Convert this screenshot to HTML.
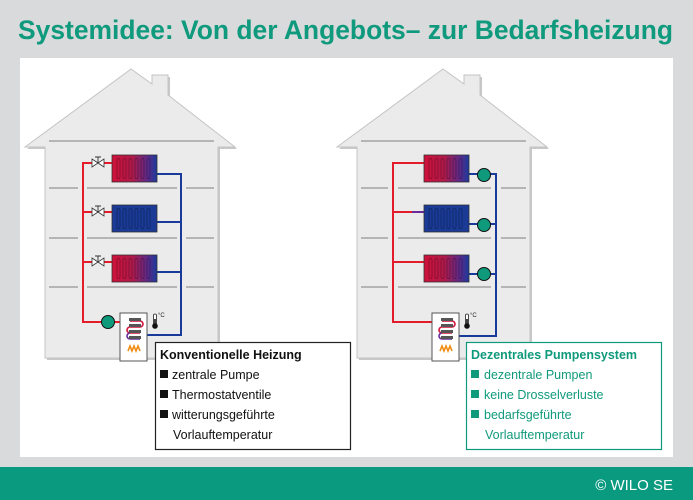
<!DOCTYPE html>
<html><head><meta charset="utf-8"><style>
html,body{margin:0;padding:0;background:#d9dadc;}
svg{display:block;}
text{font-family:"Liberation Sans","DejaVu Sans",sans-serif;}
</style></head><body>
<svg width="693" height="500" viewBox="0 0 693 500" xmlns="http://www.w3.org/2000/svg">
<defs>
<linearGradient id="rb" x1="0" x2="1" y1="0" y2="0">
<stop offset="0" stop-color="#d0103a"/><stop offset="0.45" stop-color="#b01a4a"/><stop offset="0.8" stop-color="#5a2a8a"/><stop offset="1" stop-color="#1a3a9a"/>
</linearGradient>
<g id="fins" stroke="#000" stroke-opacity="0.35" stroke-width="0.7" fill="none">
<rect x="5" y="3.5" width="3" height="20" rx="1.5"/><rect x="11" y="3.5" width="3" height="20" rx="1.5"/><rect x="17" y="3.5" width="3" height="20" rx="1.5"/><rect x="23" y="3.5" width="3" height="20" rx="1.5"/><rect x="29" y="3.5" width="3" height="20" rx="1.5"/><rect x="35" y="3.5" width="3" height="20" rx="1.5"/>
</g>
<g id="radR">
<rect x="0" y="0" width="45" height="27" fill="url(#rb)" stroke="#333" stroke-width="0.8"/>
<use href="#fins"/></g>
<g id="radB">
<rect x="0" y="0" width="45" height="27" fill="#1a3a95" stroke="#333" stroke-width="0.8"/>
<use href="#fins"/></g>
<g id="valve">
<path d="M-6,-4 L6,4 L6,-4 L-6,4 Z" fill="#fff" stroke="#333" stroke-width="0.8"/>
<path d="M0,0 V-6 M-3,-6 H3" stroke="#333" stroke-width="0.9"/>
</g>
<g id="pump"><circle r="6.5" fill="#109a7c" stroke="#111" stroke-width="1"/></g>
<g id="boiler">
<rect x="0" y="0" width="27" height="48" fill="#fff" stroke="#555" stroke-width="1"/>
<path d="M10,8 H20 a3,3 0 0 1 0,6 H10 a3,3 0 0 0 0,6 H20" fill="none" stroke="#d4143a" stroke-width="1.6"/>
<path d="M10,20 a3,3 0 0 0 0,6 H20" fill="none" stroke="#6a2a9a" stroke-width="1.6"/>
<g fill="#555"><rect x="9" y="5" width="12" height="3"/><rect x="9" y="11" width="12" height="3"/><rect x="9" y="17" width="12" height="3"/><rect x="9" y="23" width="12" height="3"/></g>
<path d="M8,38 l2,-5 l2,5 l2,-5 l2,5 l2,-5 l2,5" fill="none" stroke="#f08a10" stroke-width="1.6"/>
</g>
<g id="thermo">
<rect x="-1.5" y="0" width="3" height="11" rx="1.5" fill="#fff" stroke="#222" stroke-width="0.8"/>
<circle cx="0" cy="12" r="2.8" fill="#111"/><rect x="-0.8" y="5" width="1.6" height="7" fill="#111"/>
<text x="3" y="3" font-size="6" fill="#222">°C</text>
</g>
<g id="house">
<path d="M127,84 L127,75 L143,75 L143,95 L210,147 L193,147 L193,358 L20,358 L20,147 L0,147 L106,69 Z" fill="#c8c8c8" transform="translate(2,2)"/>
<path d="M0,147 L106,69 L127,84 L127,75 L143,75 L143,95 L210,147 L193,147 L193,358 L20,358 L20,147 Z" fill="#ebebeb" stroke="#c4c4c4" stroke-width="1"/>
</g>
</defs>

<rect x="0" y="0" width="693" height="500" fill="#d9dadc"/>
<text x="18" y="39" font-size="26.5" font-weight="bold" fill="#0f9a7d" textLength="655" lengthAdjust="spacingAndGlyphs">Systemidee: Von der Angebots– zur Bedarfsheizung</text>
<rect x="20" y="58" width="653" height="399" fill="#fff"/>
<rect x="0" y="467" width="693" height="33" fill="#0a9a80"/>
<text x="673" y="490" font-size="15" fill="#fff" text-anchor="end">© WILO SE</text>

<!-- HOUSE 1 -->
<use href="#house" x="25" y="0"/>
<g stroke="#b5b5b5" stroke-width="2">
<line x1="49" y1="141" x2="214" y2="141"/>
<line x1="49" y1="188" x2="78" y2="188"/><line x1="87" y1="188" x2="177" y2="188"/><line x1="186" y1="188" x2="214" y2="188"/>
<line x1="49" y1="238" x2="78" y2="238"/><line x1="87" y1="238" x2="177" y2="238"/><line x1="186" y1="238" x2="214" y2="238"/>
<line x1="49" y1="287" x2="78" y2="287"/><line x1="87" y1="287" x2="177" y2="287"/><line x1="186" y1="287" x2="214" y2="287"/>
</g>
<g fill="none" stroke-width="2">
<path d="M92,163 H83 V322 H101 M83,212 H92 M83,262 H92" stroke="#e31b2a"/>
<path d="M104,163 H112 M104,212 H112 M104,262 H112 M115,322 H130" stroke="#e31b2a"/>
<path d="M157,174 H181 V335 H137 M157,222 H181 M157,272 H181" stroke="#1a3a9a"/>
</g>
<use href="#valve" x="98" y="163"/><use href="#valve" x="98" y="212"/><use href="#valve" x="98" y="262"/>
<use href="#radR" x="112" y="155"/><use href="#radB" x="112" y="205"/><use href="#radR" x="112" y="255"/>
<use href="#pump" x="108" y="322"/>
<use href="#boiler" x="120" y="313"/>
<use href="#thermo" x="155" y="314"/>

<!-- HOUSE 2 -->
<use href="#house" x="337" y="0"/>
<g stroke="#b5b5b5" stroke-width="2">
<line x1="361" y1="141" x2="526" y2="141"/>
<line x1="361" y1="188" x2="388" y2="188"/><line x1="398" y1="188" x2="491" y2="188"/><line x1="501" y1="188" x2="526" y2="188"/>
<line x1="361" y1="238" x2="388" y2="238"/><line x1="398" y1="238" x2="491" y2="238"/><line x1="501" y1="238" x2="526" y2="238"/>
<line x1="361" y1="287" x2="388" y2="287"/><line x1="398" y1="287" x2="491" y2="287"/><line x1="501" y1="287" x2="526" y2="287"/>
</g>
<g fill="none" stroke-width="2">
<path d="M424,163 H393 V322 H442 M393,212 H412 M393,262 H424" stroke="#e31b2a"/>
<path d="M412,212 H424" stroke="#6a2a9a"/>
<path d="M469,174 H496 V336 H450 M469,224 H496 M469,274 H496" stroke="#1a3a9a"/>
</g>
<use href="#radR" x="424" y="155"/><use href="#radB" x="424" y="205"/><use href="#radR" x="424" y="255"/>
<use href="#pump" x="484" y="175"/><use href="#pump" x="484" y="225"/><use href="#pump" x="484" y="274"/>
<use href="#boiler" x="432" y="313"/>
<use href="#thermo" x="467" y="314"/>

<!-- Text boxes -->
<rect x="155.5" y="342.5" width="195" height="107" fill="#fff" stroke="#222" stroke-width="1.2"/>
<g font-size="12.5" fill="#111">
<text x="160" y="359" font-weight="bold">Konventionelle Heizung</text>
<rect x="160" y="370" width="8" height="8"/><text x="172" y="379">zentrale Pumpe</text>
<rect x="160" y="390" width="8" height="8"/><text x="172" y="399">Thermostatventile</text>
<rect x="160" y="410" width="8" height="8"/><text x="172" y="419">witterungsgeführte</text>
<text x="173" y="439">Vorlauftemperatur</text>
</g>
<rect x="466.5" y="342.5" width="195" height="107" fill="#fff" stroke="#109a7c" stroke-width="1.2"/>
<g font-size="12.5" fill="#109a7c">
<text x="471" y="359" font-weight="bold">Dezentrales Pumpensystem</text>
<rect x="471" y="370" width="8" height="8"/><text x="484" y="379">dezentrale Pumpen</text>
<rect x="471" y="390" width="8" height="8"/><text x="484" y="399">keine Drosselverluste</text>
<rect x="471" y="410" width="8" height="8"/><text x="484" y="419">bedarfsgeführte</text>
<text x="485" y="439">Vorlauftemperatur</text>
</g>
</svg>
</body></html>
